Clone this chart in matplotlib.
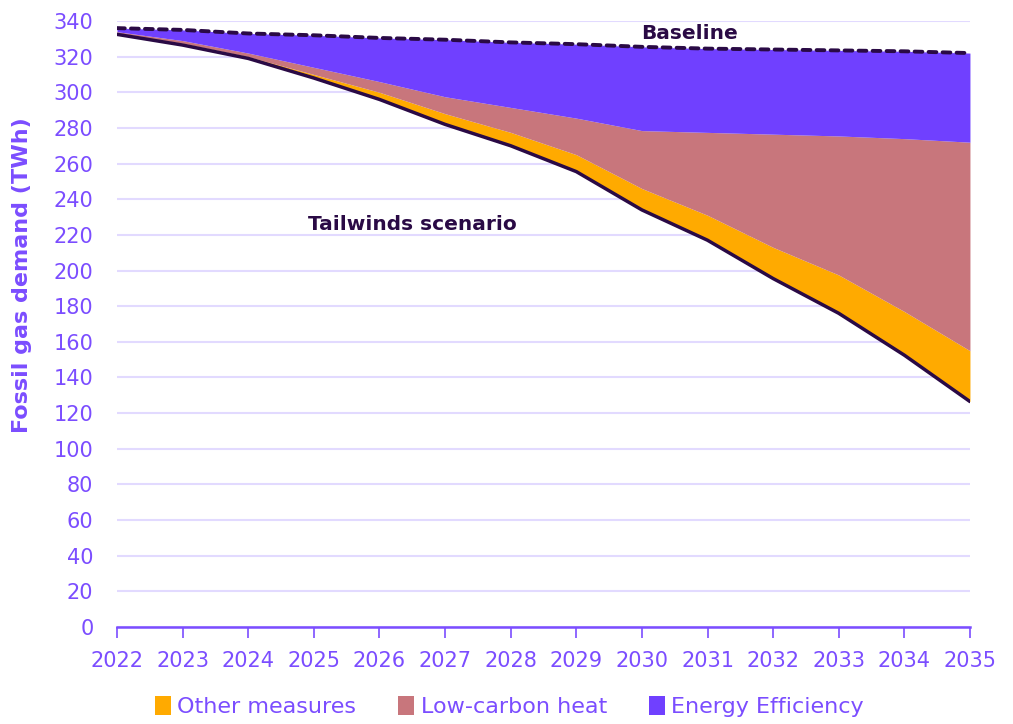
import numpy as np
import matplotlib.pyplot as plt

years = list(range(2022, 2036))

# TWh, read per year
baseline = [336, 335, 333, 332, 330.5, 329.5, 328, 327, 325.5, 324.5, 324, 323.5, 323, 322]
tailwinds = [332.5, 326.5, 319, 308, 296, 282, 270, 255.5, 234, 217, 195.5, 176, 152.5, 126.5]
other_measures = [0.5, 1, 1, 2, 4, 6, 7.5, 9.5, 12, 14, 17.5, 21.5, 24.5, 28.5]
low_carbon_heat = [1, 1.5, 2, 4, 6, 9.5, 14, 20.5, 32.5, 46.5, 63.5, 78, 97, 117]

purple = '#7040FF'
pink = '#C8767C'
orange = '#FFAA00'
dark = '#2A0A45'
grid_col = '#E2DAFF'
text_col = '#7B4DFF'

plt.rcParams['font.family'] = ['DejaVu Sans']

fig = plt.figure(figsize=(10.13, 7.24), dpi=100)
ax = fig.add_axes([0.1155, 0.134, 0.842, 0.837])

x = np.array(years)
t = np.array(tailwinds)
o_top = t + np.array(other_measures)
p_top = o_top + np.array(low_carbon_heat)
b = np.array(baseline)

# stacked savings between the scenario line and the baseline
ax.fill_between(x, t, o_top, color=orange, lw=0, label='Other measures', zorder=2)
ax.fill_between(x, o_top, p_top, color=pink, lw=0, label='Low-carbon heat', zorder=2)
ax.fill_between(x, p_top, b, color=purple, lw=0, label='Energy Efficiency', zorder=2)

ax.plot(x, t, color=dark, lw=2.5, zorder=3, solid_capstyle='round')
ax.plot(x, b, color=dark, lw=2.8, ls=(0, (2.0, 1.6)), zorder=3, dash_capstyle='round')

ax.text(2030.73, 332.8, 'Baseline', color=dark, fontsize=14.5, fontweight='bold',
        ha='center', va='center')
ax.text(2026.5, 226, 'Tailwinds scenario', color=dark, fontsize=14.5, fontweight='bold',
        ha='center', va='center')

ax.set_xlim(2022, 2035)
ax.set_ylim(0, 340)
ax.set_yticks(range(0, 341, 20))
ax.set_xticks(years)
ax.grid(axis='y', color=grid_col, lw=1.5, zorder=0)
ax.set_axisbelow(True)

for side in ['left', 'right', 'top']:
    ax.spines[side].set_visible(False)
ax.spines['bottom'].set_color(text_col)
ax.spines['bottom'].set_linewidth(1.8)
ax.spines['bottom'].set_zorder(4)

ax.tick_params(axis='y', length=0, labelsize=15, labelcolor=text_col, pad=17)
ax.tick_params(axis='x', length=8, width=1.2, color=text_col, labelsize=15,
               labelcolor=text_col, pad=9)

fig.text(0.022, 1 - 275 / 724, 'Fossil gas demand (TWh)', rotation=90, color=text_col,
         fontsize=16, fontweight='bold', ha='center', va='center')

fig.legend(loc='lower center', bbox_to_anchor=(0.503, -0.018), ncol=3, frameon=False,
           fontsize=16, labelcolor=text_col, handlelength=0.7, handleheight=0.9,
           handletextpad=0.3, columnspacing=1.9)

fig.savefig('out.png', dpi=100)
